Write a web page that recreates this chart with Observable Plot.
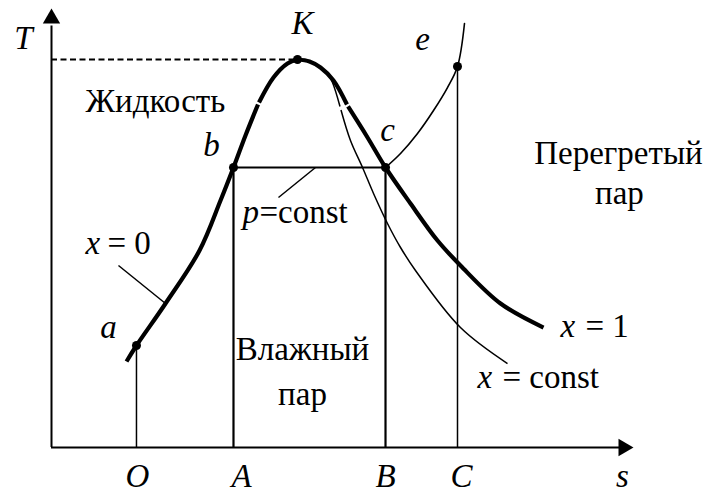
<!DOCTYPE html>
<html>
<head>
<meta charset="utf-8">
<script src="https://cdn.jsdelivr.net/npm/d3@7"></script>
<script src="https://cdn.jsdelivr.net/npm/@observablehq/plot@0.6"></script>
<style>
  body { margin: 0; background: #fff; }
</style>
</head>
<body>
<div id="chart"></div>
<script>
// T–s diagram of water: saturation dome, one isobar and a line of constant dryness.
// Entropy s and temperature T are in arbitrary units (0–10 on each axis).

// Lower boundary curve (x = 0); null splits the stroke where it is broken
const liquidLine = [
  [1.289, 1.959], [1.460, 2.323], [1.959, 3.280], [2.543, 4.487], [2.904, 5.626],
  [3.127, 6.378], [3.333, 7.107], [3.548, 7.813], null,
  [3.565, 7.859], [3.814, 8.428], [4.055, 8.747], [4.227, 8.838]
];

// Upper boundary curve (x = 1)
const vapourLine = [
  [4.227, 8.838], [4.433, 8.793], [4.622, 8.656], [4.845, 8.360], [5.077, 7.813], null,
  [5.095, 7.768], [5.430, 7.062], [5.739, 6.378], [6.168, 5.558], [6.632, 4.715],
  [7.027, 4.146], [7.715, 3.280], [8.454, 2.733]
];

// Line of constant dryness fraction inside the dome
const drynessLine = [
  [4.227, 8.838], [4.433, 8.793], [4.622, 8.656], [4.742, 8.519], [4.828, 8.314],
  [4.957, 7.768], null,
  [4.974, 7.688], [5.137, 6.993], [5.344, 6.378], [5.533, 5.786], [5.773, 5.103],
  [5.997, 4.556], [6.254, 4.032], [7.027, 2.733], [7.835, 1.913]
];

// Isobar continued into the superheated region from c through e
const superheatLine = [
  [5.739, 6.378], [5.997, 6.697], [6.289, 7.153], [6.564, 7.677],
  [6.804, 8.200], [6.976, 8.679], [7.096, 9.658]
];

// Marked states
const stateNames = ["a", "b", "K", "c", "e"];
const stateS     = [1.460, 3.127, 4.227, 5.739, 6.976];
const stateT     = [2.323, 6.378, 8.838, 6.378, 8.679];
const states = stateNames.map((name, i) => ({name, s: stateS[i], T: stateT[i]}));
const state = Object.fromEntries(states.map(d => [d.name, d]));

// Projections of states onto the s axis and their letters
const tickNames  = ["O", "A", "B", "C"];
const tickStates = ["a", "b", "c", "e"];
const ticks = tickNames.map((name, i) => ({name, s: state[tickStates[i]].s, T: state[tickStates[i]].T}));

// Leader lines: label end, curve end
const leaders = [
  {s1: 1.151, T1: 4.146, s2: 1.959, T2: 3.280},   // x = 0
  {s1: 3.900, T1: 5.695, s2: 4.536, T2: 6.378}    // p = const
];

const serif = "'Liberation Serif', 'Times New Roman', serif";
const fs = 33;

// Right-pointing filled triangle for the s-axis arrow
const arrowRight = {
  draw(ctx, size) {
    const y = Math.sqrt(size / (3 * Math.sqrt(3)));
    ctx.moveTo(2 * y, 0);
    ctx.lineTo(-y, -Math.sqrt(3) * y);
    ctx.lineTo(-y, Math.sqrt(3) * y);
    ctx.closePath();
  }
};

const X = d => d?.[0];
const Y = d => d?.[1];

// offsets of state letters from their dots (px)
const stateLabelOffset = {a: [-28, -8], b: [-22, -12], K: [5, -26], c: [2, -27], e: [-35, -16]};
const tickLabelOffset = {O: 1, A: 8, B: 0, C: 4};

const italic = (data, opts) => Plot.text(data, {
  fontFamily: serif, fontSize: fs, fontStyle: "italic", lineAnchor: "bottom", fill: "black", ...opts
});
const roman = (data, opts) => Plot.text(data, {
  fontFamily: serif, fontSize: fs, lineAnchor: "bottom", fill: "black", ...opts
});

const chart = Plot.plot({
  width: 709,
  height: 492,
  marginLeft: 51,
  marginRight: 76,
  marginTop: 8,
  marginBottom: 45,
  x: {domain: [0, 10], axis: null},
  y: {domain: [0, 10], axis: null},
  style: {background: "white", fontFamily: serif, overflow: "visible"},
  marks: [
    // axes with arrow heads
    Plot.ruleX([0], {y1: 0, y2: 9.6, stroke: "black", strokeWidth: 2}),
    Plot.ruleY([0], {x1: 0, x2: 9.8, stroke: "black", strokeWidth: 2}),
    Plot.dot([0], {x: 0, y: 10, dy: 10, symbol: "triangle", r: 6.43, fill: "black", stroke: "none"}),
    Plot.dot([0], {x: 10, y: 0, dx: -10, symbol: arrowRight, r: 6.43, fill: "black", stroke: "none"}),

    // critical temperature
    Plot.ruleY([state.K], {y: "T", x1: 0, x2: "s", stroke: "black", strokeWidth: 2, strokeDasharray: "6,3.5"}),

    // drop lines to the s axis
    Plot.ruleX(ticks.filter(d => d.name === "A" || d.name === "B"), {x: "s", y1: 0, y2: "T", stroke: "black", strokeWidth: 2.2}),
    Plot.ruleX(ticks.filter(d => d.name === "O" || d.name === "C"), {x: "s", y1: 0, y2: "T", stroke: "black", strokeWidth: 1.5}),

    // isobar across the wet region
    Plot.ruleY([0], {y: state.b.T, x1: state.b.s, x2: state.c.s, stroke: "black", strokeWidth: 2}),

    // thin curves
    Plot.line(drynessLine, {x: X, y: Y, curve: "catmull-rom", stroke: "black", strokeWidth: 1.5, strokeLinecap: "butt"}),
    Plot.line(superheatLine, {x: X, y: Y, curve: "catmull-rom", stroke: "black", strokeWidth: 1.6}),

    // saturation dome
    Plot.line(liquidLine, {x: X, y: Y, curve: "catmull-rom", stroke: "black", strokeWidth: 4.2, strokeLinecap: "butt"}),
    Plot.line(vapourLine, {x: X, y: Y, curve: "catmull-rom", stroke: "black", strokeWidth: 4.2, strokeLinecap: "butt"}),

    // leaders
    Plot.link(leaders, {x1: "s1", y1: "T1", x2: "s2", y2: "T2", stroke: "black", strokeWidth: 1.5}),

    // state points
    Plot.dot(states, {x: "s", y: "T", r: 4.5, fill: "black", stroke: "none"}),

    // state letters
    ...states.map(d => italic([d], {x: "s", y: "T", text: "name",
      dx: stateLabelOffset[d.name][0], dy: stateLabelOffset[d.name][1]})),

    // axis letters
    italic(["T"], {x: 0, y: 10, text: d => d, dx: -28, dy: 40}),
    ...ticks.map(d => italic([d], {x: "s", y: 0, text: "name", dx: tickLabelOffset[d.name], dy: 39})),
    italic(["s"], {x: 9.81, y: 0, text: d => d, dy: 39}),

    // region names
    roman(["Жидкость"], {x: 0.584, y: 7.631, text: d => d, textAnchor: "start"}),
    roman(["Перегретый"], {x: 9.742, y: 6.469, text: d => d}),
    roman(["пар"], {x: 9.759, y: 5.558, text: d => d}),
    roman(["Влажный"], {x: 4.313, y: 1.982, text: d => d}),
    roman(["пар"], {x: 4.313, y: 0.957, text: d => d}),

    // line names
    italic(["x"], {x: 0.584, y: 4.419, text: d => d, textAnchor: "start"}),
    roman(["= 0"], {x: 0.962, y: 4.419, text: d => d, textAnchor: "start"}),
    italic(["p"], {x: 3.282, y: 5.125, text: d => d, textAnchor: "start"}),
    roman(["=const"], {x: 3.574, y: 5.125, text: d => d, textAnchor: "start"}),
    italic(["x"], {x: 8.746, y: 2.506, text: d => d, textAnchor: "start"}),
    roman(["= 1"], {x: 9.175, y: 2.506, text: d => d, textAnchor: "start"}),
    italic(["x"], {x: 7.320, y: 1.344, text: d => d, textAnchor: "start"}),
    roman(["= const"], {x: 7.749, y: 1.344, text: d => d, textAnchor: "start"})
  ]
});

document.getElementById("chart").append(chart);
</script>
</body>
</html>
